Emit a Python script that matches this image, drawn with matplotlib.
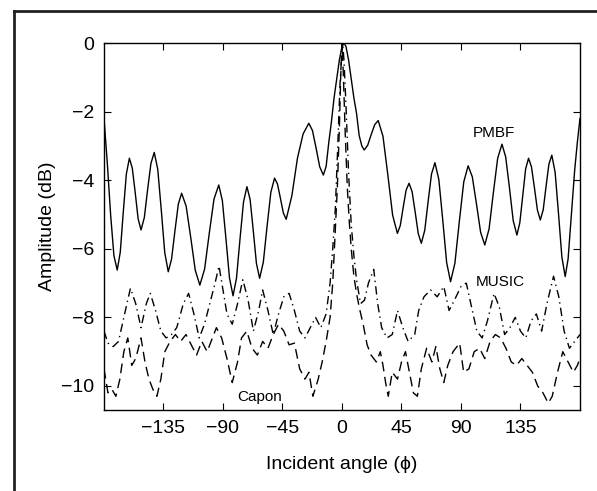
import matplotlib
matplotlib.use("Agg")
import matplotlib.pyplot as plt
from matplotlib.lines import Line2D

plt.rcParams['font.family'] = ['Liberation Sans', 'DejaVu Sans']

# PMBF (solid) - angle (deg), amplitude (dB)
pmbf_angle = [-180, -177.5, -175, -172.5, -170,
              -167.7, -165.4, -163.1, -160.8,
              -158.6, -156.4, -154.2, -152,
              -149.5, -147, -144.5, -142,
              -139.35, -136.7, -134.05, -131.4,
              -128.9, -126.35, -123.8, -121.3,
              -117.85, -114.4, -110.95, -107.5,
              -103.9, -100.35, -96.8, -93.2,
              -90.5, -87.8, -85.1, -82.4,
              -79.8, -77.15, -74.5, -71.9,
              -69.5, -67.1, -64.7, -62.3,
              -59.5, -56.65, -53.8, -51,
              -48.8, -46.6, -44.4, -42.2,
              -37.9, -33.65, -29.4, -25.1,
              -22.35, -19.6, -16.85, -14.1,
              -12, -10, -8, -6, -4, -2, 0, 1.5,
              3, 5, 7, 9, 11, 13, 15, 16.8,
              19.45, 22.1, 24.75, 27.4,
              31.0, 34.65, 38.3, 41.9,
              44.1, 46.3, 48.5, 50.7,
              53.0, 55.35, 57.7, 60,
              62.6, 65.15, 67.7, 70.3,
              73.25, 76.2, 79.15, 82.1,
              85.4, 88.75, 92.1, 95.4,
              98.55, 101.7, 104.85, 108,
              111.25, 114.5, 117.75, 121,
              123.8, 126.65, 129.5, 132.3,
              134.5, 136.7, 138.9, 141.1,
              143.3, 145.55, 147.8, 150,
              152.2, 154.35, 156.5, 158.7,
              161.2, 163.75, 166.3, 168.8,
              171, 173.5, 176, 178, 180]
pmbf_db = [-2.2, -3.5, -5.0, -6.2, -6.62,
           -6.10, -4.92, -3.82, -3.36,
           -3.65, -4.36, -5.12, -5.45,
           -5.09, -4.27, -3.51, -3.19,
           -3.68, -4.86, -6.11, -6.67,
           -6.30, -5.48, -4.70, -4.38,
           -4.76, -5.67, -6.63, -7.06,
           -6.59, -5.54, -4.55, -4.14,
           -4.59, -5.69, -6.85, -7.37,
           -6.86, -5.72, -4.64, -4.19,
           -4.56, -5.47, -6.43, -6.86,
           -6.39, -5.34, -4.35, -3.94,
           -4.11, -4.52, -4.95, -5.14,
           -4.45, -3.35, -2.65, -2.34,
           -2.55, -3.06, -3.61, -3.85,
           -3.6, -2.9, -2.3, -1.6, -1.05, -0.5, -0.1, 0.0,
           -0.1, -0.5, -1.05, -1.6, -2.05, -2.7, -3.0, -3.12,
           -2.98, -2.67, -2.38, -2.26,
           -2.72, -3.84, -5.02, -5.55,
           -5.32, -4.79, -4.29, -4.09,
           -4.33, -4.93, -5.56, -5.84,
           -5.46, -4.62, -3.82, -3.49,
           -3.98, -5.16, -6.40, -6.96,
           -6.42, -5.20, -4.05, -3.58,
           -3.90, -4.69, -5.52, -5.89,
           -5.42, -4.36, -3.36, -2.95,
           -3.32, -4.22, -5.18, -5.6,
           -5.24, -4.44, -3.67, -3.36,
           -3.61, -4.22, -4.87, -5.16,
           -4.86, -4.18, -3.53, -3.27,
           -3.77, -4.97, -6.24, -6.81,
           -6.3, -5.0, -3.7, -2.9, -2.2]

# MUSIC (dash-dot)
music_angle = [-180, -177, -173, -169, -165, -160, -156, -152, -148, -145, -141, -137, -133, -129,
               -125, -120, -116, -112, -108, -104, -100, -96, -93, -90, -87, -83, -79, -75, -71,
               -67, -63, -60, -56, -52, -48, -44, -40, -36, -32, -28, -24, -20, -16, -12, -9, -7,
               -5, -3, -1.5, 0, 0.5, 1.5, 3, 5, 7, 9, 11, 14, 17, 20, 24, 27, 30, 34, 38, 42, 46,
               50, 55, 58, 62, 67, 72, 77, 81, 85, 90, 94, 98, 102, 106, 110, 115, 119, 123, 127,
               131, 135, 139, 143, 147, 151, 155, 160, 164, 168, 172, 176, 180]
music_db = [-8.4, -8.75, -8.85, -8.7, -8.0, -7.15, -7.6, -8.3, -7.6, -7.3, -7.8, -8.4, -8.6, -8.5,
            -8.3, -7.6, -7.3, -7.9, -8.6, -8.2, -7.6, -7.0, -6.5, -7.2, -7.9, -8.2, -7.6, -6.9, -7.5,
            -8.4, -7.8, -7.2, -7.8, -8.5, -7.9, -7.4, -7.3, -7.8, -8.4, -8.6, -8.3, -8.0, -8.3, -7.9, -7.0, -6.0,
            -4.8, -2.8, -1.2, -0.2, 0.0, -0.5, -1.8, -3.8, -5.3, -6.2, -6.9, -7.6, -7.5, -7.0, -6.6, -7.6, -8.3, -8.6, -8.5, -7.8, -8.3,
            -8.7, -8.5, -7.8, -7.4, -7.2, -7.4, -7.1, -7.8, -7.5, -7.1, -7.0, -7.7, -8.4, -8.6, -8.1, -7.3, -7.7, -8.5, -8.3,
            -8.0, -8.4, -8.6, -8.1, -7.9, -8.4, -7.6, -6.8, -7.4, -8.4, -8.9, -8.7, -8.5]

# Capon (dashed)
capon_angle = [-180, -177, -174, -171, -168, -165, -162, -159, -156, -152, -149, -146, -143, -140,
               -137, -134, -130, -126, -122, -118, -114, -110, -106, -102, -98, -95, -91, -87, -83,
               -79, -76, -72, -68, -64, -60, -56, -52, -48, -44, -40, -36, -32, -28, -25, -22, -18,
               -15, -12, -9, -7, -5, -3.5, -2, -1, 0, 1, 2.5, 4, 5.5, 7, 9, 11, 13, 16, 19, 22, 26,
               29, 31, 33, 35, 38, 42, 45, 48, 51, 54, 57, 60, 64, 68, 71, 74, 77, 80, 84, 89, 92,
               96, 100, 104, 108, 112, 116, 120, 124, 128, 132, 136, 140, 144, 148, 152, 156, 159,
               163, 167, 171, 175, 178, 180]
capon_db = [-9.5, -10.2, -10.1, -10.3, -9.8, -9.0, -8.6, -9.4, -9.2, -8.6, -9.3, -9.8, -10.1, -10.3,
            -9.8, -9.0, -8.7, -8.5, -8.7, -8.5, -8.8, -9.1, -8.7, -9.0, -8.6, -8.3, -8.6, -9.2, -9.9,
            -9.3, -8.6, -8.4, -8.9, -9.1, -8.7, -8.9, -8.5, -8.2, -8.4, -8.8, -8.75, -9.5, -9.8, -9.6, -10.3, -9.8,
            -9.3, -8.7, -8.0, -7.0, -5.4, -4.2, -2.5, -1.0, 0.0, -0.9, -2.7, -4.2, -5.2, -6.0, -6.8, -7.3, -7.7, -8.2, -8.8, -9.1, -9.3,
            -9.0, -9.4, -9.9, -10.3, -9.6, -9.8, -9.3, -9.0, -9.6, -10.2, -10.3, -9.5, -8.9, -9.3, -8.85, -9.5, -9.9, -9.4, -9.0, -8.75, -9.6,
            -9.5, -9.0, -8.9, -9.2, -8.7, -8.5, -8.6, -8.9, -9.3, -9.4, -9.2, -9.4, -9.6, -10.0, -10.2, -10.5, -10.3,
            -9.6, -9.0, -9.3, -9.6, -9.4, -9.2]

x_ticks = [-135, -90, -45, 0, 45, 90, 135]
y_ticks = [-10, -8, -6, -4, -2, 0]

fig = plt.figure(figsize=(5.97, 4.91), dpi=100)
ax = fig.add_axes([0.1742, 0.165, 0.7973, 0.7474])

ax.plot(pmbf_angle, pmbf_db, color='black', lw=1.0)
ax.plot(music_angle, music_db, color='black', lw=1.0, linestyle=(0, (6, 3, 1, 3)))
ax.plot(capon_angle, capon_db, color='black', lw=1.0, linestyle=(0, (7, 4)))

ax.set_xlim(-180, 180)
ax.set_ylim(-10.7, 0)
ax.set_xticks(x_ticks)
ax.set_yticks(y_ticks)
ax.tick_params(direction='in', top=True, right=True, length=5, width=0.8,
               labelsize=14, pad=7, colors='black')
for s in ax.spines.values():
    s.set_linewidth(1.0)

ax.set_xlabel('Incident angle (\u03d5)', fontsize=14, labelpad=14)
ax.set_ylabel('Amplitude (dB)', fontsize=14, labelpad=4)

ax.text(115, -2.62, 'PMBF', fontsize=11, ha='center', va='center')
ax.text(120, -6.98, 'MUSIC', fontsize=11, ha='center', va='center')
ax.text(-62, -10.31, 'Capon', fontsize=11, ha='center', va='center')

# outer frame lines (figure border, cropped)
fig.add_artist(Line2D([13.5 / 597, 13.5 / 597], [0, 1 - 10.7 / 491], transform=fig.transFigure,
                      color='#222222', lw=2.0))
fig.add_artist(Line2D([13.5 / 597, 1], [1 - 10.7 / 491, 1 - 10.7 / 491], transform=fig.transFigure,
                      color='#222222', lw=2.0))

fig.savefig('out.png', dpi=100)
